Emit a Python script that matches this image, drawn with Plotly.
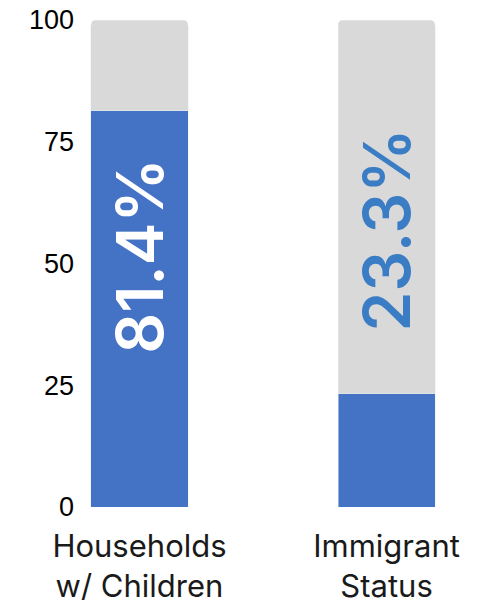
import plotly.graph_objects as go

categories = ["Households<br>w/ Children", "Immigrant<br>Status"]
values = [81.4, 23.3]
remainder = [100 - v for v in values]
tick_vals = [0, 25, 50, 75, 100]

BLUE = "#4472C4"
GREY = "#D9D9D9"

fig = go.Figure()
fig.add_trace(go.Bar(x=categories, y=values, marker_color=BLUE, width=0.393,
                     hoverinfo="skip"))
fig.add_trace(go.Bar(x=categories, y=remainder, marker_color=GREY, width=0.393,
                     hoverinfo="skip"))

label_y = [51.5, 56.9]
label_colors = ["#FFFFFF", "#3B7DC4"]
for c, v, ly, col in zip(categories, values, label_y, label_colors):
    fig.add_annotation(x=c, y=ly, text=f"{v}%", textangle=-90, showarrow=False,
                       font=dict(family="Inter", size=64, color=col, weight=600))

fig.update_layout(
    barmode="stack",
    barcornerradius=5,
    width=488, height=605,
    margin=dict(l=75, r=13, t=20, b=98),
    plot_bgcolor="white", paper_bgcolor="white",
    showlegend=False,
)
fig.update_xaxes(type="category", range=[-0.261, 1.358], showgrid=False,
                 showline=False, ticks="", automargin=False, ticklabelstandoff=18,
                 tickfont=dict(family="Inter", size=31, color="#1A1A1A"))
fig.update_yaxes(range=[0, 100], tickvals=tick_vals, showgrid=False,
                 zeroline=False, showline=False, automargin=False,
                 tickfont=dict(family="Liberation Sans", size=27, color="#000000"))

fig.write_html("out.html", config={"displayModeBar": False},
               post_script="document.body.style.margin='0';document.body.style.overflow='hidden';")
